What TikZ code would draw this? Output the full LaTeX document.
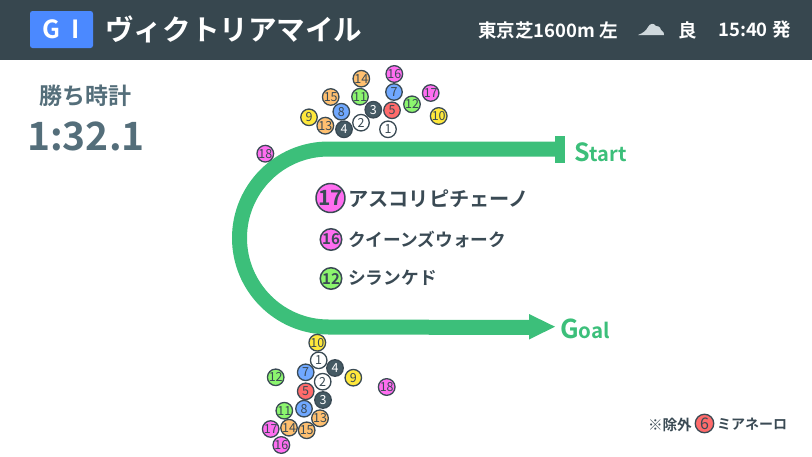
\documentclass[tikz,border=0pt]{standalone}
\usepackage{fontspec}
\setmainfont{Noto Sans CJK JP}
\newfontfamily\jpb{Noto Sans CJK JP Bold}
\definecolor{hdr}{HTML}{37474F}
\definecolor{slate}{HTML}{546E7A}
\definecolor{ink}{HTML}{3A4A54}
\definecolor{trk}{HTML}{3CBF7A}
\definecolor{badge}{HTML}{4B89FF}
\definecolor{cloudc}{HTML}{CFD8DC}
\definecolor{cW}{HTML}{FFFFFF}
\definecolor{cD}{HTML}{455A64}
\definecolor{cR}{HTML}{FF6B6B}
\definecolor{cB}{HTML}{70A8FF}
\definecolor{cY}{HTML}{FFE83C}
\definecolor{cG}{HTML}{8CF56E}
\definecolor{cO}{HTML}{FFC070}
\definecolor{cP}{HTML}{FF6EF0}
\tikzset{
 x=1pt,y=-1pt,
 horse/.style={circle,draw=ink,line width=1.3pt,minimum size=16.5pt,inner sep=0pt,text=ink,font=\fontsize{12.5}{12.5}\selectfont},
 horsew/.style={horse,fill=cW},
 horsed/.style={horse,fill=cD,text=white},
 horser/.style={horse,fill=cR},
 horseb/.style={horse,fill=cB},
 horsey/.style={horse,fill=cY},
 horseg/.style={horse,fill=cG},
 horseo/.style={horse,fill=cO},
 horsep/.style={horse,fill=cP},
 hdrtext/.style={text=white,font=\jpb\fontsize{18.5}{18.5}\selectfont,inner sep=0pt},
 rank/.style={text=ink,font=\jpb\fontsize{17.7}{17.7}\selectfont,anchor=west,inner sep=0pt},
 track/.style={draw=trk,line width=15pt},
 lbl/.style={text=trk,inner sep=0pt,anchor=base west},
}
\begin{document}
\begin{tikzpicture}
\useasboundingbox (0,0) rectangle (812,456);
\fill[hdr] (0,0) rectangle (812,60);
\fill[badge,rounded corners=2.5pt] (30,11) rectangle (93,48);
\node[text=white,font=\jpb\fontsize{25}{25}\selectfont,inner sep=0pt] (grade) at (61.5,29.5) {G\hspace{0.45em}I};
\node[text=white,font=\jpb\fontsize{28.6}{28.6}\selectfont,anchor=west,inner sep=0pt] (race) at (105,29.5) {ヴィクトリアマイル};
\node[hdrtext,anchor=west] (course) at (478,30) {東京芝1600m 左};
\fill[cloudc] (638,35) .. controls (643,33) and (646,31) .. (648,27) .. controls (650,23) and (654,23) .. (656,26) .. controls (660,26) and (661,29) .. (661,30) .. controls (664,31) and (664,34) .. (664,35) -- cycle;
\node[hdrtext] (going) at (688,30) {良};
\node[hdrtext,anchor=west] (post) at (718,30) {15:40 発};
\node[text=slate,font=\jpb\fontsize{23}{23}\selectfont,inner sep=0pt] (timelbl) at (85.5,95.5) {勝ち時計};
\node[text=slate,font=\jpb\fontsize{39}{39}\selectfont,inner sep=0pt] (time) at (86,136) {1:32.1};
% track
\coordinate (ts) at (555,149);
\coordinate (tg) at (535,327.5);
\draw[track] (ts) -- (328.5,149) arc[start angle=-90,end angle=-270,radius=89] -- (tg);
\fill[trk] (555,136) rectangle (564.5,162.5);
\fill[trk] (529,314) -- (555,326.7) -- (529,339.5) -- cycle;
\node[lbl,font=\jpb\fontsize{25}{25}\selectfont] (startl) at (574,161) {S\fontsize{20}{20}\selectfont tart};
\node[lbl,font=\jpb\fontsize{26}{26}\selectfont] (goall) at (560,338) {G\fontsize{20.5}{20.5}\selectfont oal};
% top-three
\node[horse,fill=cP,minimum size=27pt,line width=1.5pt,font=\jpb\fontsize{21}{21}\selectfont] (r1) at (330.5,198) {17};
\node[rank,font=\jpb\fontsize{20.2}{20.2}\selectfont] (r1t) at (348,198.5) {アスコリピチェーノ};
\node[horse,fill=cP,minimum size=21.5pt,line width=1.5pt,font=\jpb\fontsize{15}{15}\selectfont] (r2) at (331,239.5) {16};
\node[rank] (r2t) at (348,240) {クイーンズウォーク};
\node[horse,fill=cG,minimum size=21.5pt,line width=1.5pt,font=\jpb\fontsize{15}{15}\selectfont] (r3) at (331,278.5) {12};
\node[rank] (r3t) at (348,278) {シランケド};
% excluded
\node[text=ink,font=\jpb\fontsize{14.6}{14.6}\selectfont,anchor=east,inner sep=0pt] (ex) at (692,424.5) {※除外};
\node[horser,minimum size=18.5pt,font=\fontsize{16}{16}\selectfont] (ex6) at (704.5,423.5) {6};
\node[text=ink,font=\jpb\fontsize{14}{14}\selectfont,anchor=west,inner sep=0pt] (exn) at (717,424.5) {ミアネーロ};
% upper group
\node[horsep] (a16) at (394.3,74) {16};
\node[horseo] (a14) at (361.3,78.7) {14};
\node[horseb] (a7) at (394,92) {7};
\node[horsep] (a17) at (430.7,93) {17};
\node[horseo] (a15) at (330.7,97) {15};
\node[horseg] (a11) at (360,96.7) {11};
\node[horseg] (a12) at (412,104.3) {12};
\node[horseb] (a8) at (341.3,111.7) {8};
\node[horsed] (a3) at (373.3,109.7) {3};
\node[horser] (a5) at (392,110.3) {5};
\node[horsey] (a9) at (309,117.3) {9};
\node[horsey] (a10) at (438.7,116) {10};
\node[horseo] (a13) at (325.3,125.7) {13};
\node[horsed] (a4) at (344,129.3) {4};
\node[horsew] (a2) at (361,122.7) {2};
\node[horsew] (a1) at (388,129.3) {1};
\node[horsep] (a18) at (265.3,153.7) {18};
% lower group
\node[horsey] (b10) at (317.3,342.7) {10};
\node[horsew] (b1) at (318.7,360.3) {1};
\node[horsed] (b4) at (335,368) {4};
\node[horseb] (b7) at (305.7,372.3) {7};
\node[horseg] (b12) at (275.7,377.3) {12};
\node[horsey] (b9) at (353.3,377.7) {9};
\node[horsew] (b2) at (322.7,381.7) {2};
\node[horsep] (b18) at (386.7,387) {18};
\node[horser] (b5) at (305.7,391.3) {5};
\node[horsed] (b3) at (323,400) {3};
\node[horseb] (b8) at (304,408.7) {8};
\node[horseg] (b11) at (284.3,410.7) {11};
\node[horseo] (b13) at (320,418.3) {13};
\node[horsep] (b17) at (270.7,429) {17};
\node[horseo] (b14) at (289,427.7) {14};
\node[horseo] (b15) at (306.7,430.3) {15};
\node[horsep] (b16) at (281.3,445) {16};
\end{tikzpicture}
\end{document}
